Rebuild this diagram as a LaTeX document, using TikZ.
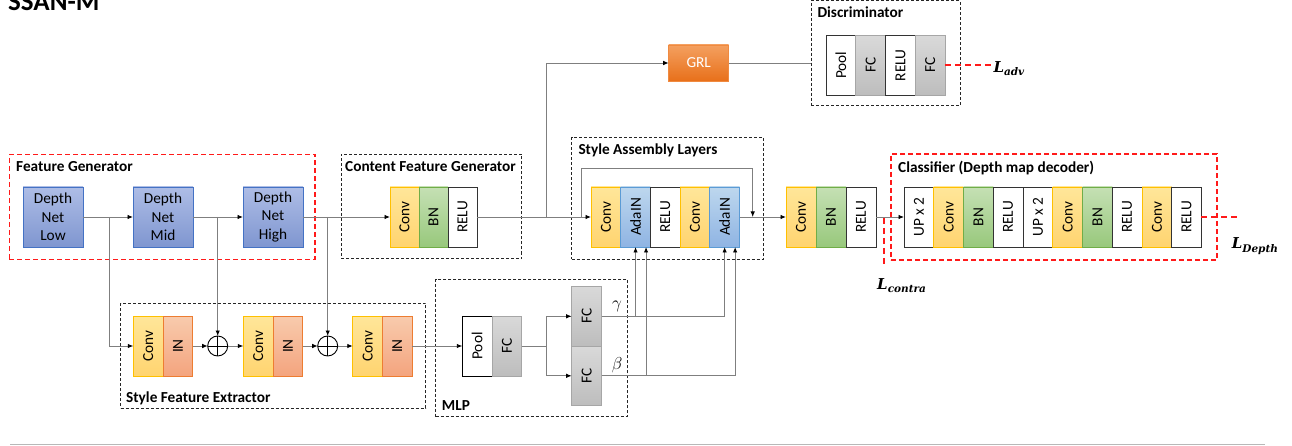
\documentclass[tikz,border=0pt]{standalone}
\usepackage{fontspec}
\setmainfont{Carlito}
\newfontfamily\lossfont{DejaVu Serif}
\usetikzlibrary{arrows.meta}

\definecolor{convT}{HTML}{FFE699}
\definecolor{convB}{HTML}{FFD470}
\definecolor{convD}{HTML}{FFC000}
\definecolor{inT}{HTML}{F8CBAD}
\definecolor{inB}{HTML}{F4A47E}
\definecolor{inD}{HTML}{ED7D31}
\definecolor{bnT}{HTML}{C5E0B4}
\definecolor{bnB}{HTML}{98C87C}
\definecolor{bnD}{HTML}{70AD47}
\definecolor{adaT}{HTML}{BDD7EE}
\definecolor{adaB}{HTML}{8FB4E3}
\definecolor{adaD}{HTML}{5B9BD5}
\definecolor{fcT}{HTML}{D9D9D9}
\definecolor{fcB}{HTML}{BDBDBD}
\definecolor{fcD}{HTML}{A6A6A6}
\definecolor{netT}{HTML}{AEBDE6}
\definecolor{netB}{HTML}{7F96D0}
\definecolor{netD}{HTML}{4472C4}
\definecolor{grlT}{HTML}{F4A060}
\definecolor{grlB}{HTML}{E8701A}
\definecolor{grlD}{HTML}{F08A40}
\definecolor{lineG}{HTML}{7F7F7F}
\definecolor{lossR}{HTML}{FF1A1A}

\newcommand\cellfs{\fontsize{15.3}{18.5}\selectfont}
\newcommand\greekfs{\fontsize{16}{18}\selectfont}
\newcommand\rt[1]{\rotatebox{90}{#1}}
% loss symbol: bold italic L with a bold italic subscript
\newcommand\lossL[1]{{\lossfont\bfseries\itshape\fontsize{15}{18}\selectfont
  L\raisebox{-3pt}{\fontsize{10.5}{12}\selectfont #1}}}

\tikzset{
  blk/.style={line width=0.8pt, minimum width=29.75pt, minimum height=60pt,
    inner sep=0pt, outer sep=0pt, font=\cellfs},
  convc/.style={blk, draw=convD, top color=convT, bottom color=convB},
  inc/.style={blk, draw=inD, top color=inT, bottom color=inB},
  bnc/.style={blk, draw=bnD, top color=bnT, bottom color=bnB},
  adac/.style={blk, draw=adaD, top color=adaT, bottom color=adaB},
  fcc/.style={blk, draw=fcD, top color=fcT, bottom color=fcB},
  whc/.style={blk, draw=black!80, fill=white},
  netc/.style={draw=netD, top color=netT, bottom color=netB, line width=0.8pt,
    minimum width=60pt, minimum height=60pt, inner sep=0pt, outer sep=0pt,
    align=center, font=\cellfs},
  grlc/.style={draw=grlD, top color=grlT, bottom color=grlB, line width=0.8pt,
    minimum width=60pt, minimum height=36pt, inner sep=0pt, outer sep=0pt,
    text=white, font=\cellfs},
  gbox/.style={draw=black!85, dash pattern=on 3pt off 2pt, line width=0.9pt,
    anchor=north west, inner sep=0pt, outer sep=0pt},
  rbox/.style={draw=lossR, dash pattern=on 5pt off 3pt, line width=1.4pt,
    anchor=north west, inner sep=0pt, outer sep=0pt},
  grp/.style={font=\bfseries\cellfs, anchor=base west, inner sep=0pt},
  link/.style={draw=lineG, line width=0.9pt},
  arr/.style={link, -{Latex[length=5.5pt,width=4.5pt,color=black]}},
  loss/.style={draw=lossR, dash pattern=on 6pt off 4pt, line width=2.2pt},
  losslbl/.style={anchor=base west, inner sep=0pt},
  sumc/.style={circle, draw=black, line width=0.9pt, minimum size=20pt,
    inner sep=0pt, outer sep=0pt,
    path picture={\draw[black, line width=0.9pt]
      (path picture bounding box.north) -- (path picture bounding box.south)
      (path picture bounding box.west) -- (path picture bounding box.east);}},
}

\begin{document}
\begin{tikzpicture}[x=1pt,y=-1pt]
\useasboundingbox (0,0) rectangle (1292,446);

% title (its top runs off the page)
\node[anchor=base west, inner sep=0pt, font=\bfseries\fontsize{27}{30}\selectfont] (title) at (8,11) {SSAN-M};

% group frames
\node[rbox, minimum width=305.7pt, minimum height=105pt] (fgbox) at (9.3,154.3) {};
\node[gbox, minimum width=180.7pt, minimum height=104.5pt] (cfgbox) at (341,154.3) {};
\node[gbox, minimum width=191.6pt, minimum height=122pt] (sasbox) at (571.7,137.3) {};
\node[gbox, minimum width=149pt, minimum height=105pt] (discbox) at (811,0.7) {};
\node[rbox, minimum width=326pt, minimum height=106pt] (clsbox) at (891,154) {};
\node[gbox, minimum width=305pt, minimum height=105pt] (sfebox) at (120.7,303.3) {};
\node[gbox, minimum width=191.6pt, minimum height=137.4pt] (mlpbox) at (435.7,279.3) {};

% group titles
\node[grp] (fglbl) at (16,172) {Feature Generator};
\node[grp] (cfglbl) at (345,171.7) {Content Feature Generator};
\node[grp] (saslbl) at (578.3,155) {Style Assembly Layers};
\node[grp] (disclbl) at (817.3,17.3) {Discriminator};
\node[grp] (clslbl) at (898,172.5) {Classifier (Depth map decoder)};
\node[grp] (sfelbl) at (126,402.3) {Style Feature Extractor};
\node[grp] (mlplbl) at (441.7,410) {MLP};

% feature generator
\node[netc] (low) at (53,217) {Depth\\Net\\Low};
\node[netc] (mid) at (163,217) {Depth\\Net\\Mid};
\node[netc] (high) at (273,217) {Depth\\Net\\High};

% content feature generator
\node[convc, minimum width=29pt] (cconv) at (404.5,217) {\rt{Conv}};
\node[bnc, minimum width=29pt] (cbn) at (433.5,217) {\rt{BN}};
\node[whc, minimum width=29pt] (crelu) at (462.5,217) {\rt{RELU}};

% style assembly layers
\node[convc, minimum width=29.7pt] (sconv1) at (605.85,217) {\rt{Conv}};
\node[adac, minimum width=29.7pt] (sada1) at (635.55,217) {\rt{AdaIN}};
\node[whc, minimum width=29.7pt] (srelu) at (665.25,217) {\rt{RELU}};
\node[convc, minimum width=29.7pt] (sconv2) at (694.95,217) {\rt{Conv}};
\node[adac, minimum width=29.7pt] (sada2) at (724.65,217) {\rt{AdaIN}};

% layers after the assembly
\node[convc, minimum width=30pt] (pconv) at (801,217) {\rt{Conv}};
\node[bnc, minimum width=30pt] (pbn) at (831,217) {\rt{BN}};
\node[whc, minimum width=30pt] (prelu) at (861,217) {\rt{RELU}};

% classifier
\node[whc] (up1) at (918.9,217) {\rt{UP x 2}};
\node[convc] (kconv1) at (948.6,217) {\rt{Conv}};
\node[bnc] (kbn1) at (978.4,217) {\rt{BN}};
\node[whc] (krelu1) at (1008.1,217) {\rt{RELU}};
\node[whc] (up2) at (1037.9,217) {\rt{UP x 2}};
\node[convc] (kconv2) at (1067.6,217) {\rt{Conv}};
\node[bnc] (kbn2) at (1097.4,217) {\rt{BN}};
\node[whc] (krelu2) at (1127.1,217) {\rt{RELU}};
\node[convc] (kconv3) at (1156.9,217) {\rt{Conv}};
\node[whc] (krelu3) at (1186.6,217) {\rt{RELU}};

% gradient reversal and discriminator
\node[grlc] (grl) at (698.7,63) {GRL};
\node[whc, minimum height=59.3pt] (dpool) at (840.9,65.3) {\rt{Pool}};
\node[fcc, minimum height=59.3pt] (dfc1) at (870.6,65.3) {\rt{FC}};
\node[whc, minimum height=59.3pt] (drelu) at (900.4,65.3) {\rt{RELU}};
\node[fcc, minimum height=59.3pt] (dfc2) at (930.1,65.3) {\rt{FC}};

% style feature extractor
\node[convc, minimum width=29.7pt] (econv1) at (148.2,346) {\rt{Conv}};
\node[inc, minimum width=29.7pt] (ein1) at (177.9,346) {\rt{IN}};
\node[sumc] (sum1) at (217.7,346) {};
\node[convc, minimum width=29.7pt] (econv2) at (258.2,346) {\rt{Conv}};
\node[inc, minimum width=29.7pt] (ein2) at (287.9,346) {\rt{IN}};
\node[sumc] (sum2) at (327.7,346) {};
\node[convc, minimum width=29.7pt] (econv3) at (367.6,346) {\rt{Conv}};
\node[inc, minimum width=29.7pt] (ein3) at (397.3,346) {\rt{IN}};

% MLP
\node[whc, draw=black] (mpool) at (477.2,346) {\rt{Pool}};
\node[fcc] (mfc) at (506.9,346) {\rt{FC}};
\node[fcc, minimum width=30pt, minimum height=59.5pt] (fcg) at (586.7,316.3) {\rt{FC}};
\node[fcc, minimum width=30pt, minimum height=59.5pt] (fcb) at (586.7,375.8) {\rt{FC}};
\node[font=\greekfs, inner sep=0pt] (gam) at (617,306.5) {$\gamma$};
\node[font=\greekfs, inner sep=0pt] (bet) at (617,365) {$\beta$};

% branch points
\coordinate (b1) at (109,217);
\coordinate (b2) at (sum1.north |- mid.east);
\coordinate (b3) at (sum2.north |- high.east);
\coordinate (b4) at (546.7,217);
\coordinate (b5) at (581.7,217);
\coordinate (b6) at (752.7,217);
\coordinate (looptop) at (581.7,168.3);
\coordinate (bs) at (546.7,346);
\coordinate (g1) at (sada1.south |- fcg.east);
\coordinate (bb1) at ([xshift=10.5pt]sada1.south |- fcb.east);

% main path
\draw[arr] (low.east) -- (mid.west);
\draw[arr] (mid.east) -- (high.west);
\draw[arr] (high.east) -- (cconv.west);
\draw[arr] (crelu.east) -- (sconv1.west);
\draw[arr] (sada2.east) -- (pconv.west);
\draw[arr] (prelu.east) -- (up1.west);

% residual loop over the assembly layers
\draw[arr] (b5) -- (looptop) -| (b6);

% adversarial branch
\draw[arr] (b4) |- (grl.west);
\draw[link] (grl.east) -- (grl.east -| discbox.west);

% style branch
\draw[arr] (b1) |- (econv1.west);
\draw[arr] (b2) -- (sum1.north);
\draw[arr] (b3) -- (sum2.north);
\draw[arr] (ein1.east) -- (sum1.west);
\draw[arr] (sum1.east) -- (econv2.west);
\draw[arr] (ein2.east) -- (sum2.west);
\draw[arr] (sum2.east) -- (econv3.west);
\draw[arr] (ein3.east) -- (mpool.west);

% MLP split and affine parameters
\draw[link] (mfc.east) -- (bs);
\draw[arr] (bs) |- (fcg.west);
\draw[arr] (bs) |- (fcb.west);
\draw[arr] (fcg.east) -| (sada2.south);
\draw[arr] (g1) -- (sada1.south);
\draw[arr] (fcb.east) -| ([xshift=10.5pt]sada2.south);
\draw[arr] (bb1) -- ([xshift=10.5pt]sada1.south);

% losses
\coordinate (advend) at (992,65.3);
\coordinate (depthend) at (1237,217);
\coordinate (ctop) at (884.3,218);
\coordinate (cbot) at (884.3,267);
\draw[loss] (dfc2.east) -- (advend);
\draw[loss] (krelu3.east) -- (depthend);
\draw[loss] (ctop) -- (cbot);
\node[losslbl] (ladv) at (993.3,72.7) {\lossL{adv}};
\node[losslbl] (ldepth) at (1231.7,249) {\lossL{Depth}};
\node[losslbl] (lcontra) at (877,289) {\lossL{contra}};

% bottom rule
\coordinate (rulel) at (10,444.5);
\coordinate (ruler) at (1265,444.5);
\draw[draw=black!28, line width=1.3pt] (rulel) -- (ruler);
\end{tikzpicture}
\end{document}
